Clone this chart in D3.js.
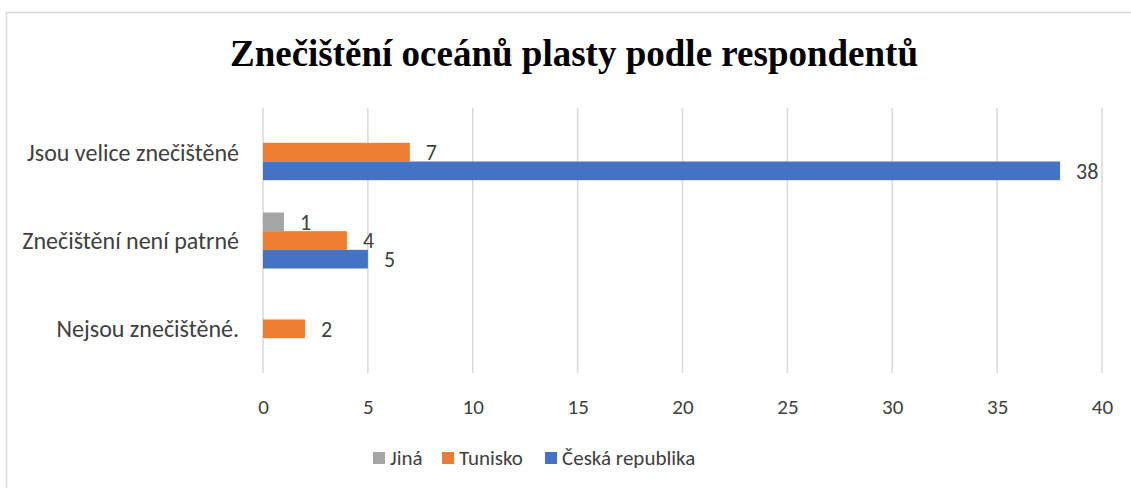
<!DOCTYPE html>
<html>
<head>
<meta charset="utf-8">
<script src="https://cdn.jsdelivr.net/npm/d3@7"></script>
<style>
  html, body { margin: 0; padding: 0; background: #fff; }
  svg { display: block; }
  .lbl { font-family: Carlito, Lato, "Noto Sans", sans-serif; fill: #404040; }
  .title { font-family: "Liberation Serif", "Times New Roman", serif; font-weight: bold; fill: #000; }
</style>
</head>
<body>
<div id="chart"></div>
<script>
"use strict";

// categories (top to bottom)
var categories = ["Jsou velice znečištěné", "Znečištění není patrné", "Nejsou znečištěné."];
// series, in stacking order inside a group (top to bottom)
var seriesNames = ["Jiná", "Tunisko", "Česká republika"];
var seriesColors = ["#A5A5A5", "#ED7D31", "#4472C4"];
var jinaValues = [0, 1, 0];
var tuniskoValues = [7, 4, 2];
var ceskaValues = [38, 5, 0];
var xTicks = [0, 5, 10, 15, 20, 25, 30, 35, 40];

var titleText = "Znečištění oceánů plasty podle respondentů";

var width = 1131, height = 488;
var seriesValues = [jinaValues, tuniskoValues, ceskaValues];

var svg = d3.select("#chart").append("svg")
  .attr("width", width)
  .attr("height", height);

// chart frame (only top and left edges fall inside the picture)
svg.append("path")
  .attr("d", "M6.5," + height + "V12.5H" + width)
  .attr("fill", "none")
  .attr("stroke", "#D9D9D9")
  .attr("stroke-width", 1.5);

// title
svg.append("text")
  .attr("class", "title")
  .attr("x", 574)
  .attr("y", 66)
  .attr("text-anchor", "middle")
  .style("font-size", "37px")
  .text(titleText);

// scales
var x = d3.scaleLinear().domain([0, 40]).range([263, 1102]);
var y = d3.scaleBand().domain(categories).range([108, 373])
  .paddingInner(0.366).paddingOuter(0.183);
var ySub = d3.scaleBand().domain(seriesNames).range([0, y.bandwidth()]);

// gridlines
svg.append("g")
  .selectAll("line")
  .data(xTicks)
  .enter()
  .append("line")
  .attr("x1", function (d) { return x(d); })
  .attr("x2", function (d) { return x(d); })
  .attr("y1", 108)
  .attr("y2", 373)
  .attr("stroke", "#D9D9D9")
  .attr("stroke-width", 1.5);

// x axis labels
var xAxis = d3.axisBottom(x).tickValues(xTicks).tickSize(0).tickPadding(0);
var xg = svg.append("g")
  .attr("transform", "translate(0,407)")
  .call(xAxis);
xg.select(".domain").remove();
xg.selectAll("text")
  .attr("class", "lbl")
  .attr("dy", "0.35em")
  .attr("y", 0)
  .style("font-size", "21px");

// category labels
var yAxis = d3.axisLeft(y).tickSize(0).tickPadding(0);
var yg = svg.append("g")
  .attr("transform", "translate(239,0)")
  .call(yAxis);
yg.select(".domain").remove();
yg.selectAll("text")
  .attr("class", "lbl")
  .attr("x", 0)
  .attr("dy", "0.35em")
  .style("font-size", "24px");

// bars
var flat = [];
categories.forEach(function (c, ci) {
  seriesNames.forEach(function (s, si) {
    flat.push({ cat: c, series: s, si: si, value: seriesValues[si][ci] });
  });
});
var shown = flat.filter(function (d) { return d.value > 0; });

svg.append("g")
  .selectAll("rect")
  .data(shown)
  .enter()
  .append("rect")
  .attr("x", x(0))
  .attr("y", function (d) { return y(d.cat) + ySub(d.series); })
  .attr("width", function (d) { return x(d.value) - x(0); })
  .attr("height", ySub.bandwidth())
  .attr("fill", function (d) { return seriesColors[d.si]; });

// value labels
svg.append("g")
  .selectAll("text")
  .data(shown)
  .enter()
  .append("text")
  .attr("class", "lbl")
  .attr("x", function (d) { return x(d.value) + 16; })
  .attr("y", function (d) { return y(d.cat) + ySub(d.series) + ySub.bandwidth() / 2; })
  .attr("dy", "0.35em")
  .style("font-size", "22px")
  .text(function (d) { return d.value; });

// legend
var legendX = [373, 442, 545];
var lg = svg.append("g");
var items = lg.selectAll("g")
  .data(seriesNames)
  .enter()
  .append("g")
  .attr("transform", function (d, i) { return "translate(" + legendX[i] + ",458)"; });
items.append("rect")
  .attr("x", 0)
  .attr("y", -6)
  .attr("width", 12)
  .attr("height", 12)
  .attr("fill", function (d, i) { return seriesColors[i]; });
items.append("text")
  .attr("class", "lbl")
  .attr("x", 17)
  .attr("dy", "0.35em")
  .style("font-size", "21px")
  .text(function (d) { return d; });
</script>
</body>
</html>
